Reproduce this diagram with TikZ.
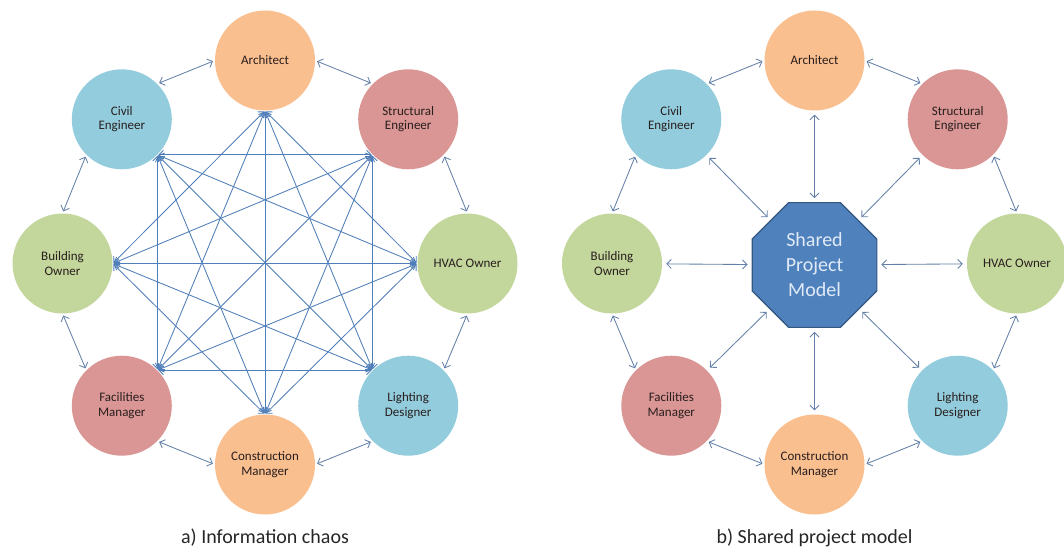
\documentclass[tikz,border=0pt]{standalone}
\usepackage{fontspec}
\setmainfont{Carlito}
\usetikzlibrary{arrows.meta,shapes.geometric}
\definecolor{corange}{RGB}{250,191,143}
\definecolor{cred}{RGB}{217,150,148}
\definecolor{cblue}{RGB}{147,205,221}
\definecolor{cgreen}{RGB}{195,214,155}
\definecolor{lineblue}{RGB}{79,126,184}
\definecolor{arrowgray}{RGB}{100,128,168}
\definecolor{octfill}{RGB}{79,129,189}
\definecolor{octdraw}{RGB}{52,87,130}
\definecolor{octtext}{RGB}{225,235,247}
\definecolor{txt}{RGB}{40,30,30}
\begin{document}
\begin{tikzpicture}[x=1pt,y=-1pt,
  role/.style={circle, minimum size=100pt, inner sep=0pt, align=center,
    font=\fontsize{13}{14.5}\selectfont, text=txt},
  link/.style={draw=lineblue, line width=0.85pt, {Straight Barb[length=4.5pt,width=9pt]}-{Straight Barb[length=4.5pt,width=9pt]},
    shorten <=1pt, shorten >=1pt},
  outer/.style={draw=arrowgray, line width=0.85pt, {Straight Barb[length=4.5pt,width=9pt]}-{Straight Barb[length=4.5pt,width=9pt]},
    shorten <=2pt, shorten >=2pt},
  hub/.style={draw=arrowgray, line width=0.85pt, {Straight Barb[length=4.5pt,width=9pt]}-{Straight Barb[length=4.5pt,width=9pt]},
    shorten <=4pt, shorten >=4pt},
  caption/.style={font=\fontsize{20}{24}\selectfont, anchor=base, text=black!85}
]
\useasboundingbox (0,0) rectangle (1064,548);

% ---------- left: information chaos ----------
\node[role, fill=corange] (LA) at (265,60.5) {Architect};
\node[role, fill=cred]    (LS) at (408.2,119.3) {Structural\\Engineer};
\node[role, fill=cgreen]  (LH) at (467.5,263.5) {HVAC Owner};
\node[role, fill=cblue]   (LL) at (408.2,405.7) {Lighting\\Designer};
\node[role, fill=corange] (LM) at (265,464.5) {Construction\\Manager};
\node[role, fill=cred]    (LF) at (121.8,405.7) {Facilities\\Manager};
\node[role, fill=cgreen]  (LB) at (62.5,263.5) {Building\\Owner};
\node[role, fill=cblue]   (LC) at (121.8,119.3) {Civil\\Engineer};

\coordinate (iA) at (LA.south);
\coordinate (iS) at (LS.south west);
\coordinate (iH) at (LH.west);
\coordinate (iL) at (LL.north west);
\coordinate (iM) at (LM.north);
\coordinate (iF) at (LF.north east);
\coordinate (iB) at (LB.east);
\coordinate (iC) at (LC.south east);

\foreach \p/\q in {A/H,S/L,H/M,L/F,M/B,F/C,B/A,C/S,
                   A/L,S/M,H/F,L/B,M/C,F/A,B/S,C/H,
                   A/M,S/F,H/B,L/C}
  \draw[link] (i\p) -- (i\q);

\draw[outer] (LA.west) -- (LC.north east);
\draw[outer] (LC.south west) -- (LB.north);
\draw[outer] (LB.south) -- (LF.north west);
\draw[outer] (LF.south east) -- (LM.west);
\draw[outer] (LM.east) -- (LL.south west);
\draw[outer] (LL.north east) -- (LH.south);
\draw[outer] (LH.north) -- (LS.south east);
\draw[outer] (LS.north west) -- (LA.east);

\node[caption] (capA) at (265,543) {a) Information chaos};

% ---------- right: shared project model ----------
\node[role, fill=corange] (RA) at (814.5,60.5) {Architect};
\node[role, fill=cred]    (RS) at (957.7,119.3) {Structural\\Engineer};
\node[role, fill=cgreen]  (RH) at (1017,263.5) {HVAC Owner};
\node[role, fill=cblue]   (RL) at (957.7,405.7) {Lighting\\Designer};
\node[role, fill=corange] (RM) at (814.5,464.5) {Construction\\Manager};
\node[role, fill=cred]    (RF) at (671.3,405.7) {Facilities\\Manager};
\node[role, fill=cgreen]  (RB) at (612,263.5) {Building\\Owner};
\node[role, fill=cblue]   (RC) at (671.3,119.3) {Civil\\Engineer};

\node[regular polygon, regular polygon sides=8, minimum size=135pt, inner sep=0pt,
      fill=octfill, draw=octdraw, line width=1.2pt, text=octtext, align=center,
      font=\fontsize{20}{25}\selectfont] (RO) at (814.5,265) {Shared\\Project\\Model};

\foreach \n in {RA,RS,RH,RL,RM,RF,RB,RC}
  \draw[hub] (RO) -- (\n);

\draw[outer] (RA.west) -- (RC.north east);
\draw[outer] (RC.south west) -- (RB.north);
\draw[outer] (RB.south) -- (RF.north west);
\draw[outer] (RF.south east) -- (RM.west);
\draw[outer] (RM.east) -- (RL.south west);
\draw[outer] (RL.north east) -- (RH.south);
\draw[outer] (RH.north) -- (RS.south east);
\draw[outer] (RS.north west) -- (RA.east);

\node[caption] (capB) at (814.5,543) {b) Shared project model};
\end{tikzpicture}
\end{document}
